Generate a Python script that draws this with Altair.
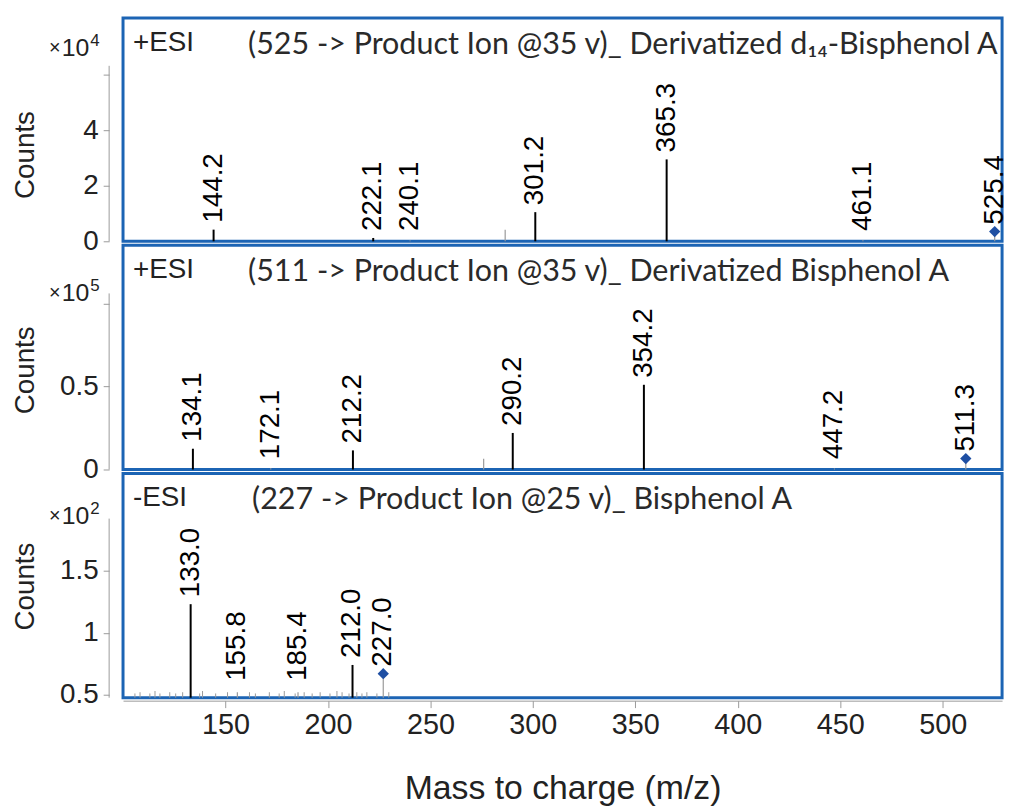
import altair as alt
import pandas as pd

# ---------------- data ----------------
X_DOMAIN = [100, 529]
X_TICKS = [150, 200, 250, 300, 350, 400, 450, 500]

# Panel 1: +ESI, 525 -> product ions (counts x10^4)
p1_mz = [144.2, 222.1, 240.1, 286.5, 301.2, 365.3, 461.1, 525.4]
p1_counts = [0.42, 0.12, 0.03, 0.42, 1.05, 2.95, 0.04, 0.35]
p1_labels = ["144.2", "222.1", "240.1", "", "301.2", "365.3", "461.1", "525.4"]
p1_kind = ["peak", "peak", "minor", "minor", "peak", "peak", "minor", "precursor"]

# Panel 2: +ESI, 511 -> product ions (counts x10^5)
p2_mz = [134.1, 172.1, 212.2, 276.0, 290.2, 354.2, 447.2, 511.3]
p2_counts = [0.125, 0.008, 0.115, 0.065, 0.22, 0.51, 0.006, 0.066]
p2_labels = ["134.1", "172.1", "212.2", "", "290.2", "354.2", "447.2", "511.3"]
p2_kind = ["peak", "minor", "peak", "minor", "peak", "peak", "minor", "precursor"]

# Panel 3: -ESI, 227 -> product ions (counts x10^2)
p3_mz = [133.0, 155.8, 185.4, 212.0, 227.0]
p3_counts = [1.23, 0.52, 0.52, 0.74, 0.67]
p3_labels = ["133.0", "155.8", "185.4", "212.0", "227.0"]
p3_kind = ["peak", "minor", "minor", "peak", "precursor"]
p3_noise_mz = [105.8, 108.3, 113.1, 115.6, 118.0, 122.8, 125.7, 129.1, 137.4, 138.8,
               145.2, 151.0, 161.7, 164.6, 171.4, 176.2, 178.7, 184.0, 188.4, 192.3,
               196.2, 201.0, 204.4, 206.9, 210.3, 214.1, 216.6, 219.0, 223.9, 229.7]
p3_noise_counts = [0.51, 0.52, 0.51, 0.53, 0.51, 0.52, 0.51, 0.52, 0.51, 0.53,
                   0.51, 0.52, 0.52, 0.51, 0.52, 0.51, 0.53, 0.51, 0.52, 0.51,
                   0.52, 0.51, 0.53, 0.52, 0.51, 0.52, 0.51, 0.52, 0.51, 0.52]

ions = ["+ESI", "+ESI", "-ESI"]
titles = [
    "(525 -> Product Ion @35 v)_ Derivatized d\u2081\u2084-Bisphenol A",
    "(511 -> Product Ion @35 v)_ Derivatized Bisphenol A",
    "(227 -> Product Ion @25 v)_ Bisphenol A",
]
exponents = ["4", "5", "2"]

# ---------------- style ----------------
BLUE = "#1c64b4"
DIAMOND = "#1f4fa3"
GRAY = "#9a9a9a"
TXT = "#222222"
ARIAL = "Liberation Sans"
PLOT_W = 886


def panel(mz, counts, labels, kinds, ydom, yvals, hidden, axis_top, floor,
          ion, title, title_x, expo, mult_base, counts_y, height, xaxis,
          noise_mz=None, noise_counts=None):
    base = ydom[0]
    df = pd.DataFrame({"mz": mz, "c": counts, "label": labels, "kind": kinds})
    df["base"] = base
    df["lab"] = [max(c, floor) for c in counts]

    xenc = alt.X("mz:Q", scale=alt.Scale(domain=X_DOMAIN, nice=False, zero=False),
                 axis=xaxis, title="Mass to charge (m/z)")
    yscale = alt.Scale(domain=ydom, nice=False, zero=False)
    yaxis = alt.Axis(values=yvals, format="~g",
                     labelExpr=f"datum.value == {hidden} ? '' : datum.label",
                     domain=False, offset=14, tickColor=GRAY, tickSize=6,
                     labelFont=ARIAL, labelFontSize=28, labelColor=TXT,
                     labelPadding=5, grid=False, title=None)

    def Y(field):
        return alt.Y(field, scale=yscale, axis=yaxis)

    layers = []
    if noise_mz is not None:
        ndf = pd.DataFrame({"mz": noise_mz, "c": noise_counts})
        ndf["base"] = base
        layers.append(alt.Chart(ndf).mark_rule(color=GRAY, strokeWidth=1).encode(
            x=xenc, y=Y("c:Q"), y2="base:Q"))

    minor = alt.Chart(df).transform_filter("datum.kind != 'peak'").mark_rule(
        color=GRAY, strokeWidth=1.2).encode(x=xenc, y=Y("c:Q"), y2="base:Q")
    major = alt.Chart(df).transform_filter("datum.kind == 'peak'").mark_rule(
        color="black", strokeWidth=2).encode(x=xenc, y=Y("c:Q"), y2="base:Q")
    prec = alt.Chart(df).transform_filter("datum.kind == 'precursor'").mark_point(
        shape="diamond", filled=True, size=130, color=DIAMOND, opacity=1).encode(
        x=xenc, y=Y("c:Q"))
    lab = alt.Chart(df).transform_filter("datum.label != ''").mark_text(
        angle=270, align="left", baseline="middle", dx=7, font=ARIAL,
        fontSize=28, color="black").encode(x=xenc, y=Y("lab:Q"), text="label:N")

    # partial y-axis line
    adf = pd.DataFrame({"y0": [base], "y1": [axis_top]})
    aline = alt.Chart(adf).mark_rule(color=GRAY, strokeWidth=1).encode(
        x=alt.value(-14), y=Y("y0:Q"), y2="y1:Q")

    tdf = pd.DataFrame({"ion": [ion], "title": [title], "expo": [expo],
                        "ten": ["10"], "times": ["\u00d7"], "counts": ["Counts"]})
    ion_t = alt.Chart(tdf).mark_text(align="left", baseline="alphabetic", font=ARIAL,
                                     fontSize=28, color=TXT).encode(
        x=alt.value(10), y=alt.value(33), text="ion:N")
    title_t = alt.Chart(tdf).mark_text(align="left", baseline="alphabetic", font="Lato",
                                       fontSize=30.7, color="#2a2a2a").encode(
        x=alt.value(title_x), y=alt.value(36), text="title:N")
    ten_t = alt.Chart(tdf).mark_text(align="right", baseline="alphabetic", font=ARIAL,
                                     fontSize=25, color=TXT).encode(
        x=alt.value(-34), y=alt.value(mult_base), text="ten:N")
    exp_t = alt.Chart(tdf).mark_text(align="left", baseline="alphabetic", font=ARIAL,
                                     fontSize=17, color=TXT).encode(
        x=alt.value(-33), y=alt.value(mult_base - 10), text="expo:N")
    times_t = alt.Chart(tdf).mark_text(align="right", baseline="alphabetic", font=ARIAL,
                                       fontSize=20, color=TXT).encode(
        x=alt.value(-63), y=alt.value(mult_base - 2), text="times:N")
    counts_t = alt.Chart(tdf).mark_text(angle=270, align="center", baseline="middle",
                                        font=ARIAL, fontSize=28, color=TXT).encode(
        x=alt.value(-98), y=alt.value(counts_y), text="counts:N")

    layers += [minor, major, prec, lab, aline, ion_t, title_t, ten_t, exp_t, times_t, counts_t]
    return alt.layer(*layers).properties(width=PLOT_W, height=height)


xaxis_bottom = alt.Axis(values=X_TICKS, domainColor=GRAY, tickColor=GRAY, tickSize=7,
                        offset=3, labelFont=ARIAL, labelFontSize=29, labelColor=TXT,
                        labelPadding=3, labelFlush=False, grid=False,
                        titleFont=ARIAL, titleFontSize=34, titleFontWeight="normal",
                        titleColor=TXT, titlePadding=33)

c1 = panel(p1_mz, p1_counts, p1_labels, p1_kind, [0, 8.04], [0, 2, 4, 6], 6, 6.32, 0.12,
           ions[0], titles[0], 126, exponents[0], 38, 138, 225, None)
c2 = panel(p2_mz, p2_counts, p2_labels, p2_kind, [0, 1.35], [0, 0.5, 1], 1, 1.06, 0.02,
           ions[1], titles[1], 126, exponents[1], 56, 126, 226, None)
c3 = panel(p3_mz, p3_counts, p3_labels, p3_kind, [0.476, 2.284], [0.5, 1, 1.5], 9, 1.92, 0.556,
           ions[2], titles[2], 130, exponents[2], 51, 114, 226, xaxis_bottom,
           p3_noise_mz, p3_noise_counts)

chart = alt.vconcat(c1, c2, c3, spacing=4, bounds="flush").configure_view(
    stroke=BLUE, strokeWidth=3).properties(
    padding={"left": 10, "top": 13, "right": 0, "bottom": 0},
    background="white")

chart.save("out.html", embed_options={"renderer": "svg", "actions": False})
